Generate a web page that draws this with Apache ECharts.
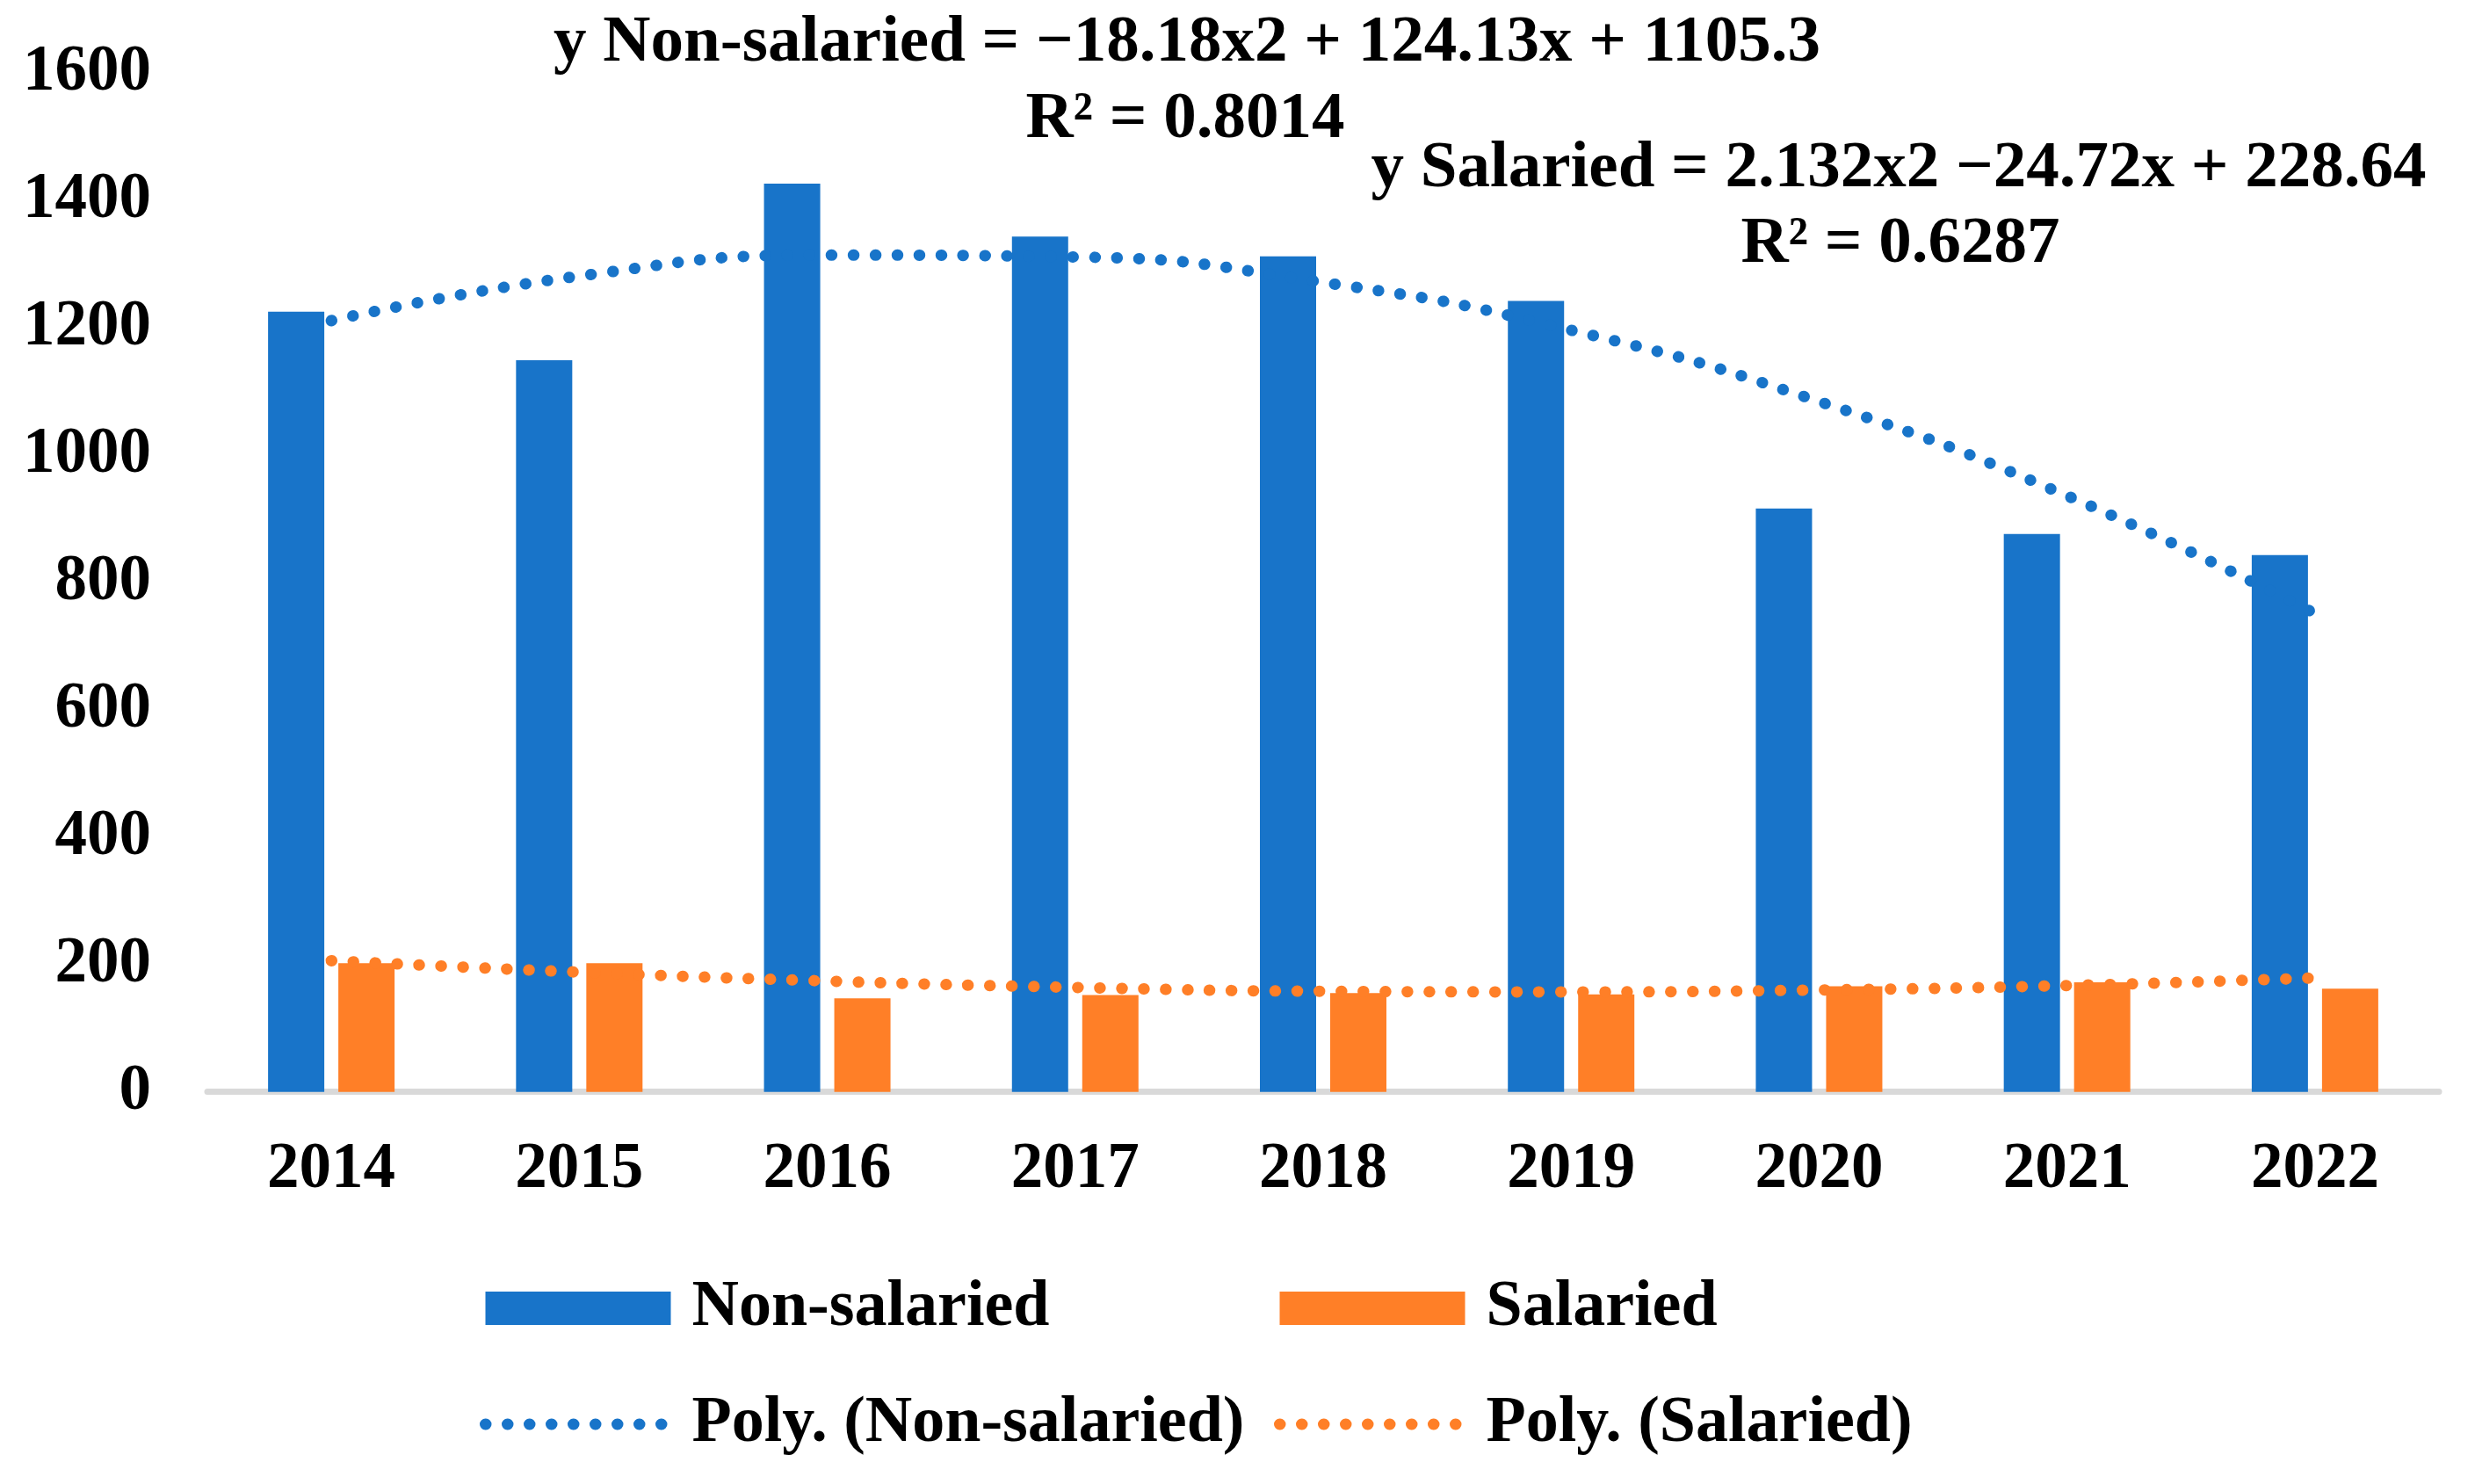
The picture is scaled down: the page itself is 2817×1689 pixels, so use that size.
<!DOCTYPE html>
<html>
<head>
<meta charset="utf-8">
<script src="https://cdn.jsdelivr.net/npm/echarts@6/dist/echarts.min.js"></script>
<style>
html,body{margin:0;padding:0;background:#fff;}
#chart{width:2817px;height:1689px;}
</style>
</head>
<body>
<div id="chart"></div>
<script>
const years = ['2014','2015','2016','2017','2018','2019','2020','2021','2022'];
const nonSalaried = [1225, 1149, 1426, 1343, 1312, 1242, 916, 876, 843];
const salaried = [202, 202, 147, 152, 155, 153, 166, 172, 162];
// trendline values at each year
const polyNonSalaried = [1211, 1281, 1314, 1311, 1271, 1196, 1084, 936, 751];
const polySalaried = [206, 188, 174, 164, 158, 157, 160, 167, 179];
const yTicks = [0, 200, 400, 600, 800, 1000, 1200, 1400, 1600];
const eqNon = ['y Non-salaried = \u221218.18x2 + 124.13x + 1105.3', 'R\u00B2 = 0.8014'];
const eqSal = ['y Salaried = 2.132x2 \u221224.72x + 228.64', 'R\u00B2 = 0.6287'];

const BLUE = '#1874C9';
const ORANGE = '#FF7F27';
const FONT = '"Liberation Serif", "Times New Roman", serif';
const dotStyle = (c) => ({ color: c, width: 13, type: [0.5, 24.5], cap: 'round' });
const textBase = { fontFamily: FONT, fontWeight: 'bold', fontSize: 75, fill: '#000', align: 'center', verticalAlign: 'middle' };

const legendBase = {
  top: 1452,
  padding: 0,
  orient: 'vertical',
  itemWidth: 211,
  itemHeight: 38,
  itemGap: 58,
  formatter: (name) => '{n|' + name + '}',
  textStyle: {
    fontFamily: FONT, fontWeight: 'bold', fontSize: 74, color: '#000',
    rich: { n: { fontFamily: FONT, fontWeight: 'bold', fontSize: 74, color: '#000', padding: [0, 0, 0, 19] } }
  }
};

const chart = echarts.init(document.getElementById('chart'), null, { renderer: 'canvas' });
chart.setOption({
  backgroundColor: '#fff',
  animation: false,
  grid: { left: 236, right: 41, top: 83, bottom: 446.3, containLabel: false },
  xAxis: {
    type: 'category',
    data: years,
    offset: 3,
    axisLine: { show: true, lineStyle: { color: '#D9D9D9', width: 7 } },
    axisTick: { show: false },
    axisLabel: { fontFamily: FONT, fontWeight: 'bold', fontSize: 73, color: '#000', margin: 86, verticalAlign: 'middle' }
  },
  yAxis: {
    type: 'value',
    min: yTicks[0],
    max: yTicks[yTicks.length - 1],
    interval: 200,
    axisLine: { show: false },
    axisTick: { show: false },
    splitLine: { show: false },
    axisLabel: { fontFamily: FONT, fontWeight: 'bold', fontSize: 73, color: '#000', margin: 64, formatter: (v) => String(v) }
  },
  legend: [
    Object.assign({}, legendBase, {
      left: 546,
      data: [
        { name: 'Non-salaried', icon: 'rect' },
        { name: 'Poly. (Non-salaried)', lineStyle: dotStyle(BLUE), itemStyle: { opacity: 0 } }
      ]
    }),
    Object.assign({}, legendBase, {
      left: 1450,
      data: [
        { name: 'Salaried', icon: 'rect' },
        { name: 'Poly. (Salaried)', lineStyle: dotStyle(ORANGE), itemStyle: { opacity: 0 } }
      ]
    })
  ],
  graphic: [
    { type: 'text', x: 1351, y: 50, style: Object.assign({ text: eqNon[0] }, textBase) },
    { type: 'text', x: 1349, y: 137, style: Object.assign({ text: eqNon[1] }, textBase) },
    { type: 'text', x: 2161, y: 193, style: Object.assign({ text: eqSal[0] }, textBase) },
    { type: 'text', x: 2163, y: 279, style: Object.assign({ text: eqSal[1] }, textBase) }
  ],
  series: [
    { name: 'Non-salaried', type: 'bar', data: nonSalaried, barWidth: 64, barGap: '25%', itemStyle: { color: BLUE }, z: 2 },
    { name: 'Salaried', type: 'bar', data: salaried, barWidth: 64, barGap: '25%', itemStyle: { color: ORANGE }, z: 2 },
    { name: 'Poly. (Non-salaried)', type: 'line', data: polyNonSalaried, smooth: true, symbol: 'none', lineStyle: dotStyle(BLUE), itemStyle: { color: BLUE }, z: 5 },
    { name: 'Poly. (Salaried)', type: 'line', data: polySalaried, smooth: true, symbol: 'none', lineStyle: dotStyle(ORANGE), itemStyle: { color: ORANGE }, z: 5 }
  ]
});
</script>
</body>
</html>
